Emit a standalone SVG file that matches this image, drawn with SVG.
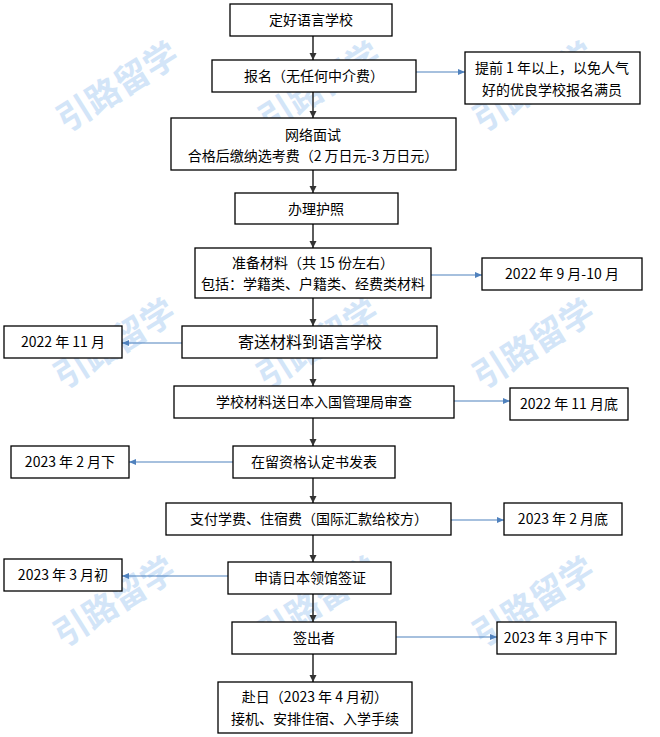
<svg xmlns="http://www.w3.org/2000/svg" width="660" height="737" viewBox="0 0 660 737">
<defs>
<style>
.bx{fill:#fff;stroke:#000;stroke-width:1.3}
.t{font-family:"Noto Sans CJK SC","Microsoft YaHei",sans-serif;font-size:14px;fill:#000;text-anchor:middle}
.wm{font-family:"Noto Sans CJK SC",sans-serif;font-weight:bold;font-size:34px;fill:#d3e5f8;text-anchor:middle}
.main{stroke:#333;stroke-width:1.6;fill:none}
.side{stroke:#4f81bd;stroke-width:1.1;fill:none}
</style>
<marker id="ah" markerWidth="8" markerHeight="8" refX="7" refY="4" orient="auto" markerUnits="userSpaceOnUse">
<path d="M0,0.5 L7,4 L0,7.5 Z" fill="#333"/>
</marker>
<marker id="bh" markerWidth="8" markerHeight="8" refX="7" refY="4" orient="auto" markerUnits="userSpaceOnUse">
<path d="M0,1 L7,4 L0,7 Z" fill="#4f81bd"/>
</marker>
</defs>
<rect width="660" height="737" fill="#fff"/>
<g id="watermarks">
<text class="wm" transform="translate(124,97) rotate(-32)">引路留学</text>
<text class="wm" transform="translate(326,97) rotate(-32)">引路留学</text>
<text class="wm" transform="translate(540,97) rotate(-32)">引路留学</text>
<text class="wm" transform="translate(121,354) rotate(-32)">引路留学</text>
<text class="wm" transform="translate(324,354) rotate(-32)">引路留学</text>
<text class="wm" transform="translate(540,354) rotate(-32)">引路留学</text>
<text class="wm" transform="translate(121,612) rotate(-32)">引路留学</text>
<text class="wm" transform="translate(324,612) rotate(-32)">引路留学</text>
<text class="wm" transform="translate(540,612) rotate(-32)">引路留学</text>
</g>
<g id="connectors">
<line class="main" x1="313" y1="36" x2="313" y2="60" marker-end="url(#ah)"/>
<line class="main" x1="313" y1="92" x2="313" y2="118" marker-end="url(#ah)"/>
<line class="main" x1="313" y1="170" x2="313" y2="193" marker-end="url(#ah)"/>
<line class="main" x1="313" y1="224" x2="313" y2="248" marker-end="url(#ah)"/>
<line class="main" x1="313" y1="298" x2="313" y2="326" marker-end="url(#ah)"/>
<line class="main" x1="313" y1="358" x2="313" y2="386" marker-end="url(#ah)"/>
<line class="main" x1="313" y1="418" x2="313" y2="446" marker-end="url(#ah)"/>
<line class="main" x1="313" y1="478" x2="313" y2="503" marker-end="url(#ah)"/>
<line class="main" x1="313" y1="535" x2="313" y2="562" marker-end="url(#ah)"/>
<line class="main" x1="313" y1="594" x2="313" y2="622" marker-end="url(#ah)"/>
<line class="main" x1="313" y1="654" x2="313" y2="682" marker-end="url(#ah)"/>
<line class="side" x1="416" y1="72" x2="465" y2="72" marker-end="url(#bh)"/>
<line class="side" x1="431" y1="275" x2="482" y2="275" marker-end="url(#bh)"/>
<line class="side" x1="182" y1="343" x2="122" y2="343" marker-end="url(#bh)"/>
<line class="side" x1="454" y1="401" x2="510" y2="401" marker-end="url(#bh)"/>
<line class="side" x1="233" y1="462" x2="129" y2="462" marker-end="url(#bh)"/>
<line class="side" x1="451" y1="520" x2="504" y2="520" marker-end="url(#bh)"/>
<line class="side" x1="228" y1="576" x2="122" y2="576" marker-end="url(#bh)"/>
<line class="side" x1="396" y1="637" x2="497" y2="637" marker-end="url(#bh)"/>
</g>
<g id="n1"><rect class="bx" x="230" y="4" width="162" height="32"/><text class="t" x="311" y="25">定好语言学校</text></g>
<g id="n2"><rect class="bx" x="212" y="60" width="204" height="32"/><text class="t" x="314" y="81">报名（无任何中介费）</text></g>
<g id="s1"><rect class="bx" x="465" y="52" width="175" height="52"/><text class="t" x="552" y="73">提前 1 年以上，以免人气</text><text class="t" x="552" y="95">好的优良学校报名满员</text></g>
<g id="n3"><rect class="bx" x="171" y="118" width="285" height="52"/><text class="t" x="313" y="140">网络面试</text><text class="t" x="313" y="161">合格后缴纳选考费（2 万日元-3 万日元）</text></g>
<g id="n4"><rect class="bx" x="235" y="193" width="163" height="31"/><text class="t" x="316" y="214">办理护照</text></g>
<g id="n5"><rect class="bx" x="195" y="248" width="236" height="50"/><text class="t" x="313" y="268">准备材料（共 15 份左右）</text><text class="t" x="313" y="289">包括：学籍类、户籍类、经费类材料</text></g>
<g id="s2"><rect class="bx" x="482" y="258" width="160" height="32"/><text class="t" x="562" y="279">2022 年 9 月-10 月</text></g>
<g id="n6"><rect class="bx" x="182" y="326" width="255" height="32"/><text class="t" x="310" y="348" style="font-size:16px">寄送材料到语言学校</text></g>
<g id="s3"><rect class="bx" x="4" y="326" width="118" height="32"/><text class="t" x="63" y="347">2022 年 11 月</text></g>
<g id="n7"><rect class="bx" x="174" y="386" width="280" height="32"/><text class="t" x="314" y="407">学校材料送日本入国管理局审查</text></g>
<g id="s4"><rect class="bx" x="510" y="388" width="118" height="32"/><text class="t" x="569" y="409">2022 年 11 月底</text></g>
<g id="n8"><rect class="bx" x="233" y="446" width="162" height="32"/><text class="t" x="314" y="467">在留资格认定书发表</text></g>
<g id="s5"><rect class="bx" x="11" y="446" width="118" height="32"/><text class="t" x="70" y="467">2023 年 2 月下</text></g>
<g id="n9"><rect class="bx" x="166" y="503" width="285" height="32"/><text class="t" x="309" y="524">支付学费、住宿费（国际汇款给校方）</text></g>
<g id="s6"><rect class="bx" x="504" y="503" width="118" height="32"/><text class="t" x="563" y="524">2023 年 2 月底</text></g>
<g id="n10"><rect class="bx" x="228" y="562" width="163" height="32"/><text class="t" x="310" y="583">申请日本领馆签证</text></g>
<g id="s7"><rect class="bx" x="4" y="559" width="118" height="32"/><text class="t" x="63" y="580">2023 年 3 月初</text></g>
<g id="n11"><rect class="bx" x="232" y="622" width="164" height="32"/><text class="t" x="314" y="643">签出者</text></g>
<g id="s8"><rect class="bx" x="497" y="622" width="119" height="32"/><text class="t" x="556" y="643">2023 年 3 月中下</text></g>
<g id="n12"><rect class="bx" x="218" y="682" width="194" height="51"/><text class="t" x="315" y="702">赴日（2023 年 4 月初）</text><text class="t" x="315" y="724">接机、安排住宿、入学手续</text></g>
</svg>
